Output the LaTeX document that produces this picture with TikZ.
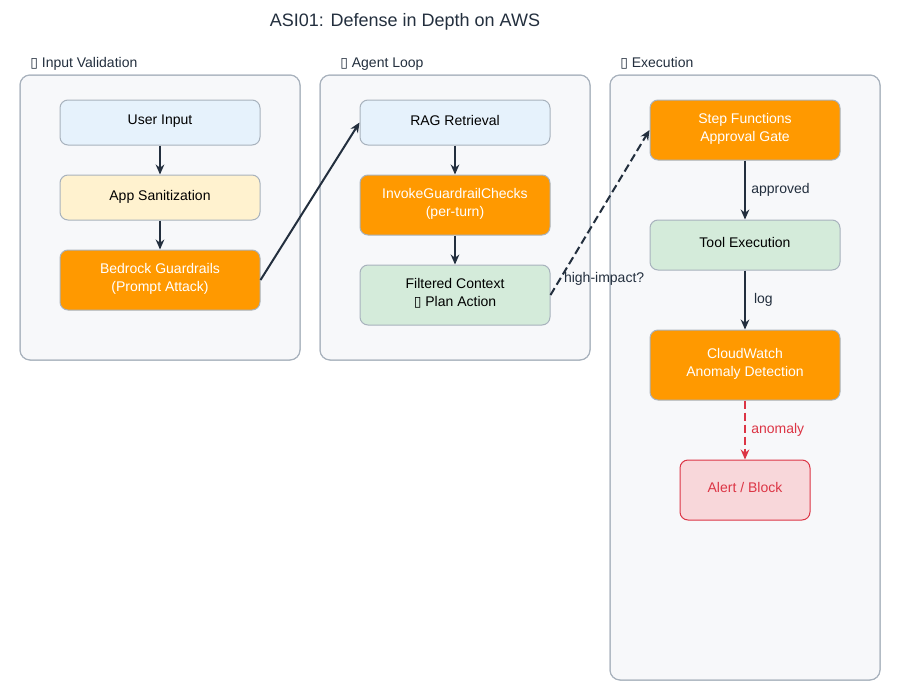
\documentclass[tikz,border=0pt]{standalone}
\usepackage{fontspec}
\setmainfont{Liberation Sans}
\newfontfamily\symfont{DejaVu Sans}
\usetikzlibrary{arrows.meta}
\definecolor{awsorange}{HTML}{FF9900}
\definecolor{awsink}{HTML}{232F3E}
\definecolor{panelfill}{HTML}{F7F8FA}
\definecolor{panelline}{HTML}{A8B2BD}
\definecolor{bluefill}{HTML}{E6F2FC}
\definecolor{yellowfill}{HTML}{FFF2CF}
\definecolor{greenfill}{HTML}{D4EBDA}
\definecolor{alertred}{HTML}{DC3545}
\definecolor{alertfill}{HTML}{F8D7DA}
\newcommand{\tofu}{{\symfont\char"25AF}}

\begin{document}
\begin{tikzpicture}[x=0.75pt,y=-0.75pt,
    font=\fontsize{10.5}{13.5}\selectfont,
    panel/.style={draw=panelline,fill=panelfill,rounded corners=7.5pt,line width=0.75pt},
    paneltitle/.style={anchor=base west,text=awsink,inner sep=0pt},
    box/.style={draw=panelline,rounded corners=6pt,line width=0.75pt,align=center,
        minimum width=142.5pt,minimum height=33.75pt,inner sep=0pt,text depth=3.5pt},
    plain/.style={box,fill=bluefill},
    appbox/.style={box,fill=yellowfill},
    awsbox/.style={box,fill=awsorange,text=white,minimum height=45pt},
    okbox/.style={box,fill=greenfill,minimum height=45pt},
    alertbox/.style={box,draw=alertred,fill=alertfill,text=alertred,minimum width=97.5pt,minimum height=45pt},
    flow/.style={draw=awsink,line width=1.5pt,-{Stealth[length=7.5pt,width=6.5pt]}},
    lbl/.style={anchor=west,text=awsink,inner sep=4pt}
]
    \useasboundingbox[fill=white] (0,0) rectangle (900,700);

    \node[text=awsink,font=\fontsize{13.5}{16}\selectfont] (title) at (405,22) {ASI01: Defense in Depth on AWS};

    \fill[panel] (20,75) rectangle (300,360);
    \fill[panel] (320,75) rectangle (590,360);
    \fill[panel] (610,75) rectangle (880,680);
    \draw[panel,fill=none] (20,75) rectangle (300,360);
    \draw[panel,fill=none] (320,75) rectangle (590,360);
    \draw[panel,fill=none] (610,75) rectangle (880,680);
    \node[paneltitle] (inputtitle) at (30,67) {\tofu\ Input Validation};
    \node[paneltitle] (looptitle) at (340,67) {\tofu\ Agent Loop};
    \node[paneltitle] (exectitle) at (620,67) {\tofu\ Execution};

    \node[plain,minimum width=150pt] (userinput) at (160,122.5) {User Input};
    \node[appbox,minimum width=150pt] (sanitize) at (160,197.5) {App Sanitization};
    \node[awsbox,minimum width=150pt] (guardrails) at (160,280) {Bedrock Guardrails\\(Prompt Attack)};

    \node[plain] (rag) at (455,122.5) {RAG Retrieval};
    \node[awsbox] (invoke) at (455,205) {InvokeGuardrailChecks\\(per-turn)};
    \node[okbox] (filtered) at (455,295) {Filtered Context\\\tofu\ Plan Action};

    \node[awsbox] (stepfn) at (745,130) {Step Functions\\Approval Gate};
    \node[okbox,minimum height=37.5pt] (toolexec) at (745,245) {Tool Execution};
    \node[awsbox,minimum height=52.5pt] (cloudwatch) at (745,365) {CloudWatch\\Anomaly Detection};
    \node[alertbox] (alert) at (745,490) {Alert / Block};

    \draw[flow] (userinput) -- (sanitize);
    \draw[flow] (sanitize) -- (guardrails);
    \draw[flow] (guardrails.east) -- (rag.west);
    \draw[flow] (rag) -- (invoke);
    \draw[flow] (invoke) -- (filtered);
    \draw[flow,dashed,dash pattern=on 6pt off 3pt] (filtered.east) -- node[lbl,pos=0.1,inner sep=2pt] {high-impact?} (stepfn.west);
    \draw[flow] (stepfn) -- node[lbl] {approved} (toolexec);
    \draw[flow] (toolexec) -- node[lbl,inner sep=6pt] {log} (cloudwatch);
    \draw[flow,draw=alertred,dash pattern=on 6pt off 3pt] (cloudwatch) -- node[lbl,text=alertred] {anomaly} (alert);
\end{tikzpicture}
\end{document}
